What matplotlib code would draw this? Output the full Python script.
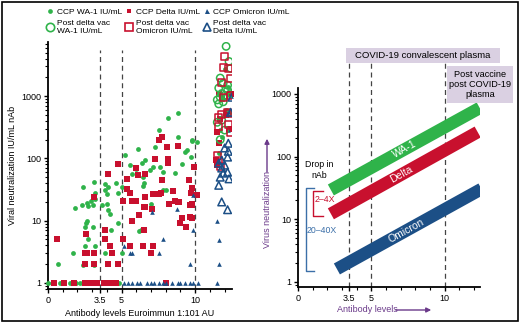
import numpy as np
import matplotlib
matplotlib.use("Agg")
import matplotlib.pyplot as plt
from matplotlib.lines import Line2D
from matplotlib.patches import Rectangle

plt.rcParams['font.family'] = ['Liberation Sans', 'DejaVu Sans']

# ---- data ----
# CCP WA-1 (filled green)
wa1_x = [0.0, 0.3, 0.8, 1.5, 1.9, 2.2, 2.7, 3.2, 4.0, 4.4, 4.8,
         0.7, 1.7, 2.4, 3.1, 1.85, 2.3, 2.65, 2.6, 2.65, 2.5, 2.7, 2.5, 3.05, 3.2,
         3.2, 4.0, 4.2, 4.3, 3.9, 4.75, 5.0, 7.0, 6.3, 2.4, 3.1, 3.2, 3.9, 4.1,
         3.9, 4.0, 4.6, 4.75, 2.9, 2.7, 3.05, 3.65, 4.1,
         8.85, 8.15, 7.55, 8.8, 7.3, 6.1, 9.75, 10.1, 9.45, 9.3, 9.7, 9.1, 5.2,
         6.6, 6.4, 5.6, 6.0, 7.1, 6.95, 7.6, 8.15, 7.8, 5.7, 6.45, 6.55, 6.45,
         8.0, 8.6, 5.0, 7.8, 9.8, 6.2,
         11.7, 11.8, 12.1, 11.9, 12.2, 11.6, 12.0]
wa1_y = [1, 1, 1, 1, 1, 1, 1, 1, 1, 1, 1,
         2.0, 3.0, 1.95, 1.95, 16, 18, 19, 9.2, 10, 7.9, 5.0, 3.9, 7.9, 3.9,
         22, 18.5, 13, 7.1, 3.0, 9.2, 3.0, 18.5, 7.1, 35, 42, 28, 39, 35,
         31, 27, 40, 28, 21, 17, 18, 18, 15,
         530, 440, 285, 220, 150, 140, 195, 185, 135, 125, 105, 80, 112,
         94, 84, 78, 68, 73, 65, 73, 84, 60, 56, 50, 40, 36,
         31, 58, 35, 31, 190, 6.8,
         285, 220, 600, 900, 1400, 120, 2700]

# CCP Delta (filled red)
delta_x = [0.4, 1.1, 1.8, 2.5, 2.9, 3.3, 3.8, 4.2, 4.6, 8.0,
           0.6, 2.6, 2.5, 2.65, 3.1, 2.5, 3.1, 3.1, 3.9, 3.9, 4.2, 4.35, 4.1, 4.76,
           5.1, 5.1, 5.6, 5.7, 5.7, 5.6, 6.0, 6.5, 6.46, 6.5, 6.6, 7.07, 7.0, 7.14,
           7.2, 7.7, 8.2, 8.6, 8.85, 9.1, 9.0, 9.4, 9.75, 9.66, 9.8, 9.7, 10.1,
           7.76, 7.55, 8.1, 8.16, 7.28, 4.76, 4.1, 6.0, 6.6, 6.1, 7.76, 5.37, 5.37,
           7.14, 7.55, 8.5, 9.6, 9.8, 9.9, 8.16, 8.8, 8.9, 9.8, 6.2, 9.66, 6.6,
           11.5, 11.4, 11.5, 11.8, 12.4, 11.6, 12.1, 11.7, 12.3, 11.6]
delta_y = [1, 1, 1, 1, 1, 1, 1, 1, 1, 1,
           5.1, 6.1, 3.0, 3.0, 3.0, 2.0, 2.0, 24, 7.1, 5.0, 3.9, 3.0, 2.0, 2.0,
           21, 5.0, 28, 21, 9.9, 3.9, 21, 16.5, 3.9, 7.1, 24, 15.4, 3.0, 3.9,
           27, 28, 18.5, 21, 20, 11, 9.2, 7.9, 11, 18, 18, 28, 26,
           220, 200, 150, 98, 98, 81, 56, 70, 56, 54, 45, 47, 32,
           27, 27, 30, 45, 33, 73, 84, 158, 20, 18.5, 12.3, 11.5, 16.5,
           265, 94, 78, 960, 1100, 1100, 500, 430, 300, 180]

# CCP Omicron (filled blue)
omi_x = [5.17, 5.44, 5.7, 6.05, 6.26, 6.7, 7.0, 7.2, 7.55, 7.8, 8.0, 8.4,
         8.8, 9.0, 9.3, 9.66, 9.86, 10.2, 11.5,
         5.17, 5.6, 5.7, 7.8, 7.55, 7.07, 8.78, 9.66, 9.86, 9.86,
         11.5, 11.6, 11.6, 12.4, 12.3, 12.2]
omi_y = [1, 1, 1, 1, 1, 1, 1, 1, 1, 1, 1, 1,
         1, 1, 1, 1, 1, 1, 1,
         3.9, 3.0, 3.0, 5.0, 3.0, 14, 15.4, 2.0, 7.1, 26,
         9.9, 4.9, 2.0, 1000, 550, 290]

# Post delta vaccine (open markers)
pv_wa1_x = [12.1, 12.3, 12.4, 11.7, 11.9, 12.2, 11.6, 12.2, 11.8, 12.4, 12.0,
            11.7, 11.5, 11.9, 11.6, 12.2, 11.8, 11.5, 12.0, 11.7]
pv_wa1_y = [6300, 3600, 2800, 1950, 1600, 1500, 1350, 1250, 1100, 1100, 1030,
            960, 870, 810, 750, 535, 410, 380, 285, 200]
pv_omi_x = [12.0, 12.25, 11.9, 12.4, 12.4, 11.6, 11.8, 12.2, 12.3, 11.6, 12.25,
            12.4, 11.5, 11.6, 11.7, 11.8, 11.9]
pv_omi_y = [4400, 2800, 2900, 1950, 1030, 460, 500, 550, 535, 320, 345,
            265, 113, 94, 73, 1650, 960]
pv_delta_x = [12.5, 12.4, 12.25, 12.0, 12.25, 12.2, 11.8, 11.6, 12.0, 11.8,
              12.2, 11.9, 11.7, 12.3, 11.6, 11.8, 12.2]
pv_delta_y = [960, 550, 175, 147, 130, 105, 94, 84, 78, 70,
              60, 58, 50, 47, 37, 20, 15]

cutoffs = [3.5, 5, 10]

# schematic bands: (x0, y0) -> (x1, y1)
band_names = ['WA-1', 'Delta', 'Omicron']
band_x0 = [2.24, 2.24, 2.65]
band_y0 = [29.3, 12.2, 1.61]
band_x1 = [12.38, 12.24, 12.5]
band_y1 = [596, 246, 30.4]
band_lbl_x = [7.3, 7.07, 7.4]

GREEN = '#2fb34a'
RED = '#c8102e'
BLUE = '#1c4f86'
PURPLE = '#6b3a8a'
LAV = '#dad0e2'

fig = plt.figure(figsize=(5.2, 3.23), dpi=100)

# ---------------- left panel ----------------
ax = fig.add_axes([48/520, 1-289/323, 184/520, 247/323])
ax.set_yscale('log')
ax.set_xlim(0, 12.5)
ax.set_ylim(0.8, 7400)
for c in cutoffs:
    ax.axvline(c, ymax=0.968, color='#444444', lw=0.9, ls=(0, (4, 3)), zorder=1)

ax.scatter(wa1_x, wa1_y, s=12, marker='o', color=GREEN, lw=0, zorder=3, clip_on=False)
ax.scatter(delta_x, delta_y, s=13, marker='s', color=RED, lw=0, zorder=3, clip_on=False)
ax.scatter(omi_x, omi_y, s=11, marker='^', color=BLUE, lw=0, zorder=3, clip_on=False)
ax.scatter(pv_wa1_x, pv_wa1_y, s=28, marker='o', facecolor='none', edgecolor=GREEN, lw=1.1, zorder=4)
ax.scatter(pv_omi_x, pv_omi_y, s=26, marker='s', facecolor='none', edgecolor=RED, lw=1.1, zorder=4)
ax.scatter(pv_delta_x, pv_delta_y, s=30, marker='^', facecolor='none', edgecolor=BLUE, lw=1.1, zorder=4)

ax.set_xticks([0, 3.5, 5, 10])
ax.set_xticklabels(['0', '3.5', '5', '10'])
ax.set_xticks(range(0, 13), minor=True)
ax.set_yticks([1, 10, 100, 1000])
ax.set_yticklabels(['1', '10', '100', '1000'])
ax.tick_params(labelsize=6.5, width=1, length=3, pad=2)
ax.tick_params(which='minor', width=0.8, length=2)
for s in ['top', 'right']:
    ax.spines[s].set_visible(False)
for s in ['left', 'bottom']:
    ax.spines[s].set_linewidth(1.3)
ax.set_xlabel('Antibody levels Euroimmun 1:101 AU', fontsize=6.5, labelpad=3)
ax.set_ylabel('Viral neutralization IU/mL nAb', fontsize=6.5, labelpad=3)

handles = [
    Line2D([], [], ls='', marker='o', ms=3.4, color=GREEN, mew=0),
    Line2D([], [], ls='', marker='o', ms=6, mfc='none', mec=GREEN, mew=1.2),
    Line2D([], [], ls='', marker='s', ms=3.4, color=RED, mew=0),
    Line2D([], [], ls='', marker='s', ms=5.5, mfc='none', mec=RED, mew=1.2),
    Line2D([], [], ls='', marker='^', ms=3.6, color=BLUE, mew=0),
    Line2D([], [], ls='', marker='^', ms=6, mfc='none', mec=BLUE, mew=1.2),
]
labels = ['CCP WA-1 IU/mL', 'Post delta vac\nWA-1 IU/mL',
          'CCP Delta IU/mL', 'Post delta vac\nOmicron IU/mL',
          'CCP Omicron IU/mL', 'Post delta vac\nDelta IU/mL']
fig.legend(handles, labels, loc='upper left', bbox_to_anchor=(0.08, 0.99),
           ncol=3, frameon=False, fontsize=6.0, handlelength=0.8,
           handletextpad=0.4, columnspacing=0.45, labelspacing=0.45,
           borderaxespad=0.2)

# ---------------- right panel ----------------
ax2 = fig.add_axes([298/520, 1-287/323, 182/520, 199/323])
ax2.set_yscale('log')
ax2.set_xlim(0, 12.4)
ax2.set_ylim(0.83, 1240)
for c in cutoffs:
    ax2.axvline(c, ymax=1.126, color='#444444', lw=0.9, ls=(0, (4, 3)),
                zorder=1, clip_on=False)

colors = [GREEN, RED, BLUE]
for i in range(3):
    ax2.plot([band_x0[i], band_x1[i]], [band_y0[i], band_y1[i]], color=colors[i],
             lw=9, solid_capstyle='butt', zorder=3)
    # label on band
    ly = 10 ** (np.log10(band_y0[i]) + (np.log10(band_y1[i]) - np.log10(band_y0[i]))
                * (band_lbl_x[i] - band_x0[i]) / (band_x1[i] - band_x0[i]))
    p0 = ax2.transData.transform((band_x0[i], band_y0[i]))
    p1 = ax2.transData.transform((band_x1[i], band_y1[i]))
    ang = np.degrees(np.arctan2(p1[1] - p0[1], p1[0] - p0[0]))
    ax2.text(band_lbl_x[i], ly, band_names[i], color='white', fontsize=7.5,
             rotation=ang, rotation_mode='anchor', ha='center', va='center', zorder=4)

# brackets
ax2.plot([1.7, 1.02, 1.02, 1.7], [28.3, 28.3, 11.3, 11.3], color=RED, lw=1, zorder=3)
ax2.plot([1.09, 0.54, 0.54, 1.09], [31.5, 31.5, 1.5, 1.5], color='#3b6fa8', lw=1, zorder=3)
ax2.text(1.43, 61, 'Drop in\nnAb', fontsize=6.3, ha='center', va='center')
ax2.text(1.84, 20.3, '2–4X', fontsize=6.3, color=RED, ha='center', va='center')
ax2.text(1.63, 6.5, '20–40X', fontsize=6.3, color='#3b6fa8', ha='center', va='center')

ax2.set_xticks([0, 3.5, 5, 10])
ax2.set_xticklabels(['0', '3.5', '5', '10'])
ax2.set_xticks(range(0, 13), minor=True)
ax2.set_yticks([1, 10, 100, 1000])
ax2.set_yticklabels(['1', '10', '100', '1000'])
ax2.tick_params(labelsize=6.5, width=1, length=3, pad=2)
ax2.tick_params(which='minor', width=0.8, length=2)
for s in ['top', 'right']:
    ax2.spines[s].set_visible(False)
for s in ['left', 'bottom']:
    ax2.spines[s].set_linewidth(1.3)

# purple axis labels with arrows
fig.text(367/520, 1-310/323, 'Antibody levels', color=PURPLE, fontsize=6.5,
         ha='center', va='center')
ax2.annotate('', xy=(434/520, 1-310/323), xytext=(393/520, 1-310/323),
             xycoords='figure fraction', textcoords='figure fraction',
             arrowprops=dict(arrowstyle='-|>', color=PURPLE, lw=1, mutation_scale=7))
fig.text(267/520, 1-210/323, 'Virus neutralization', color=PURPLE, fontsize=6.5,
         rotation=90, ha='center', va='center')
ax2.annotate('', xy=(267/520, 1-136/323), xytext=(267/520, 1-175/323),
             xycoords='figure fraction', textcoords='figure fraction',
             arrowprops=dict(arrowstyle='-|>', color=PURPLE, lw=1, mutation_scale=7))

# boxes
fig.patches.append(Rectangle((346/520, 1-63/323), 154/520, 15/323, transform=fig.transFigure,
                             facecolor=LAV, edgecolor='none', zorder=0))
fig.text(423/520, 1-55.5/323, 'COVID-19 convalescent plasma', fontsize=6.8,
         ha='center', va='center')
fig.patches.append(Rectangle((447/520, 1-103/323), 66/520, 37/323, transform=fig.transFigure,
                             facecolor=LAV, edgecolor='none', zorder=0))
fig.text(480/520, 1-84.5/323, 'Post vaccine\npost COVID-19\nplasma', fontsize=6.6,
         ha='center', va='center', linespacing=1.15)

# outer frame
fig.patches.append(Rectangle((0.003, 0.005), 0.994, 0.99, transform=fig.transFigure,
                             fill=False, edgecolor='black', lw=1.2))

fig.savefig('out.png', dpi=100)
